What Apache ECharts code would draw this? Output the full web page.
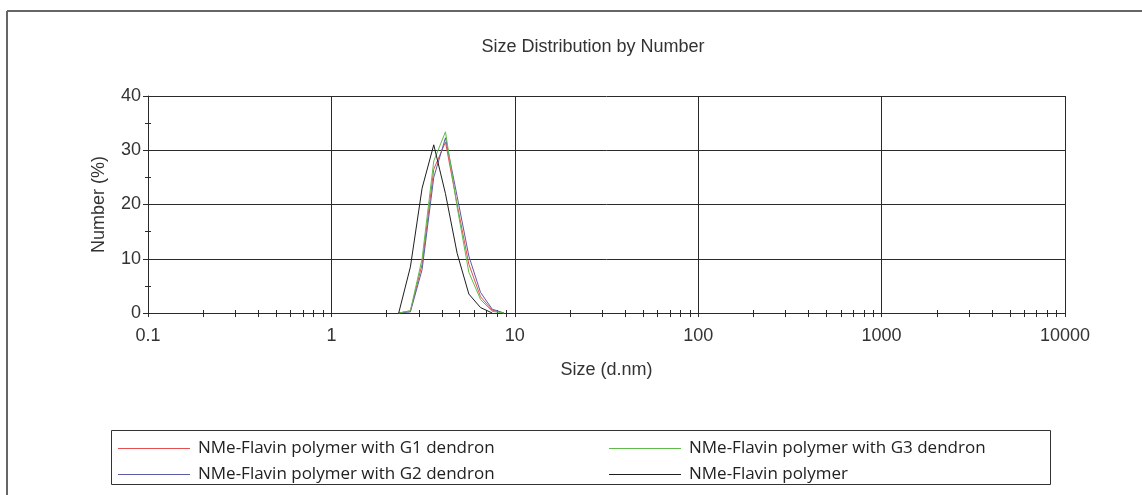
<!DOCTYPE html>
<html>
<head>
<meta charset="utf-8">
<script src="https://cdn.jsdelivr.net/npm/echarts@6/dist/echarts.min.js"></script>
<style>
  html, body { margin: 0; padding: 0; background: #fff; }
  #chart { width: 1142px; height: 495px; }
</style>
</head>
<body>
<div id="chart"></div>
<script>
// Size classes (d.nm) of the distribution, and % by number for each sample
const sizeBins = [2.328, 2.696, 3.122, 3.615, 4.187, 4.849, 5.615, 6.503, 7.531, 8.721];
const g1Dendron = [0, 0.4, 9, 26.5, 31.5, 20, 9, 3, 0.5, 0];
const g2Dendron = [0, 0.2, 8, 25, 32.3, 21.5, 10.5, 3.8, 0.7, 0];
const g3Dendron = [0, 0.4, 10, 28, 33.4, 19.5, 7.5, 2.5, 0.3, 0];
const plainPolymer = [0, 8.5, 23, 31, 22, 11, 3.5, 1, 0, null];

const seriesNames = [
  'NMe-Flavin polymer with G1 dendron',
  'NMe-Flavin polymer with G2 dendron',
  'NMe-Flavin polymer with G3 dendron',
  'NMe-Flavin polymer'
];
const seriesColors = ['#e4504f', '#5b5ba6', '#5fbb4c', '#1e1e1e'];

const xTickLabels = ['0.1', '1', '10', '100', '1000', '10000'];
const yTickLabels = ['0', '10', '20', '30', '40'];
const xMinorTicks = [];
for (const decade of [0.1, 1, 10, 100, 1000]) {
  for (let k = 2; k <= 9; k++) xMinorTicks.push(+(decade * k).toPrecision(3));
}
const yMinorTicks = [5, 15, 25, 35];

const toPairs = (vals) => sizeBins.map((s, i) => [s, vals[i]]).filter(p => p[1] !== null);

const axisColor = '#2a2a2a';
const font = 'Liberation Sans, Arial, sans-serif';

const chart = echarts.init(document.getElementById('chart'), null, { renderer: 'canvas' });

const lineSeries = [g1Dendron, g2Dendron, g3Dendron, plainPolymer].map((vals, i) => ({
  name: seriesNames[i],
  type: 'line',
  data: toPairs(vals),
  xAxisIndex: 0,
  yAxisIndex: 0,
  symbol: 'none',
  smooth: false,
  lineStyle: { color: seriesColors[i], width: 1 },
  itemStyle: { color: seriesColors[i] },
  z: 3
}));

const legendBase = {
  orient: 'vertical',
  itemWidth: 72,
  itemHeight: 1,
  itemGap: 9,
  icon: 'rect',
  selectedMode: false,
  textStyle: { fontFamily: 'Open Sans, sans-serif', fontSize: 17, color: '#222', lineHeight: 16, padding: [0, 0, 0, 3] }
};

chart.setOption({
  animation: false,
  backgroundColor: '#fff',
  title: {
    text: 'Size Distribution by Number',
    left: 588,
    textAlign: 'center',
    top: 33,
    textStyle: { fontFamily: font, fontSize: 18, fontWeight: 'normal', color: '#333' }
  },
  legend: [
    Object.assign({}, legendBase, { left: 113, top: 435, data: [seriesNames[0], seriesNames[1]] }),
    Object.assign({}, legendBase, { left: 604, top: 435, data: [seriesNames[2], seriesNames[3]] })
  ],
  grid: { left: 148, right: 77, top: 96, bottom: 182, containLabel: false },
  xAxis: [
    {
      type: 'log',
      logBase: 10,
      min: 0.1,
      max: 10000,
      name: 'Size (d.nm)',
      nameLocation: 'middle',
      nameGap: 48,
      nameTextStyle: { fontFamily: font, fontSize: 18, color: '#333' },
      axisLine: { show: true, lineStyle: { color: axisColor, width: 1 } },
      axisTick: { show: true, length: 4, lineStyle: { color: axisColor } },
      axisLabel: {
        margin: 14,
        fontFamily: font,
        fontSize: 18,
        color: '#333',
        formatter: (v, i) => xTickLabels[i]
      },
      splitLine: { show: true, lineStyle: { color: axisColor, width: 1 } }
    },
    {
      type: 'log',
      logBase: 10,
      min: 0.1,
      max: 10000,
      position: 'bottom',
      offset: -3,
      axisLine: { show: false },
      axisTick: { show: true, length: 7, customValues: xMinorTicks, lineStyle: { color: axisColor } },
      axisLabel: { show: false },
      splitLine: { show: false }
    }
  ],
  yAxis: [
    {
      type: 'value',
      min: 0,
      max: 40,
      interval: 10,
      name: 'Number (%)',
      nameLocation: 'middle',
      nameGap: 40,
      nameTextStyle: { fontFamily: font, fontSize: 18, color: '#333' },
      axisLine: { show: true, lineStyle: { color: axisColor, width: 1 } },
      axisTick: { show: true, length: 5, lineStyle: { color: axisColor } },
      axisLabel: {
        margin: 7,
        fontFamily: font,
        fontSize: 18,
        color: '#333',
        formatter: (v, i) => yTickLabels[i]
      },
      splitLine: { show: true, lineStyle: { color: axisColor, width: 1 } }
    },
    {
      type: 'value',
      min: 0,
      max: 40,
      position: 'left',
      offset: -3,
      axisLine: { show: false },
      axisTick: { show: true, length: 6, customValues: yMinorTicks, lineStyle: { color: axisColor } },
      axisLabel: { show: false },
      splitLine: { show: false }
    }
  ],
  graphic: [
    // outer frame (top and left edges)
    { type: 'line', shape: { x1: 7, y1: 11, x2: 1142, y2: 11 }, style: { stroke: '#666', lineWidth: 2 }, silent: true },
    { type: 'line', shape: { x1: 7, y1: 11, x2: 7, y2: 495 }, style: { stroke: '#666', lineWidth: 2 }, silent: true },
    // legend box
    { type: 'rect', shape: { x: 111.5, y: 430.5, width: 939, height: 54 }, style: { fill: 'none', stroke: '#333', lineWidth: 1 }, silent: true }
  ],
  series: lineSeries
});
</script>
</body>
</html>
